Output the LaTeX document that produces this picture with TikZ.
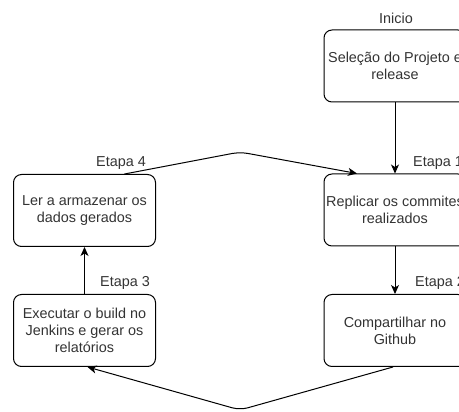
\documentclass[tikz,border=0pt]{standalone}
\usepackage{fontspec}
\setmainfont{Liberation Sans}
\usetikzlibrary{arrows.meta}
\definecolor{txt}{HTML}{333333}
\tikzset{
  box/.style={draw=black, line width=1pt, rounded corners=8pt,
    minimum width=142pt, minimum height=72pt, align=center,
    text=txt, font=\fontsize{14.4pt}{17pt}\selectfont, inner sep=2pt},
  lbl/.style={text=txt, font=\fontsize{14.4pt}{17pt}\selectfont, inner sep=0pt},
  link/.style={draw=black, line width=1pt,
    -{Stealth[length=9pt,width=8pt,inset=2.5pt]}}
}
\begin{document}
\begin{tikzpicture}[x=1pt,y=-1pt]
\useasboundingbox (0,0) rectangle (459,412);
\clip (0,0) rectangle (459,412);
% process steps
\node[box] (sel)  at (395,66)    {Seleção do Projeto e\\release};
\node[box] (rep)  at (395,210)   {Replicar os commites\\realizados};
\node[box] (comp) at (395,330.5) {Compartilhar no\\Github};
\node[box] (exe)  at (84.5,330.5) {Executar o build no\\Jenkins e gerar os\\relatórios};
\node[box] (ler)  at (84.5,210.5) {Ler a armazenar os\\dados gerados};
% bend points of the return paths
\coordinate (top) at (240,152);
\coordinate (bot) at (240,410);
% connectors
\draw[link] (sel) -- (rep);
\draw[link] (rep) -- (comp);
\draw[link, rounded corners=8pt] ([xshift=-2pt]comp.south) -- (bot) -- ([xshift=3pt]exe.south);
\draw[link] (exe) -- (ler);
\draw[link, rounded corners=8pt] ([xshift=40pt]ler.north) -- (top) -- ([xshift=-38pt]rep.north);
% labels
\node[lbl] (l0) at (396,18) {Inicio};
\node[lbl, anchor=west] (l1) at (413,163) {Etapa 1};
\node[lbl, anchor=west] (l2) at (415,283) {Etapa 2};
\node[lbl] (l3) at (125,283) {Etapa 3};
\node[lbl] (l4) at (121,163) {Etapa 4};
\end{tikzpicture}
\end{document}
